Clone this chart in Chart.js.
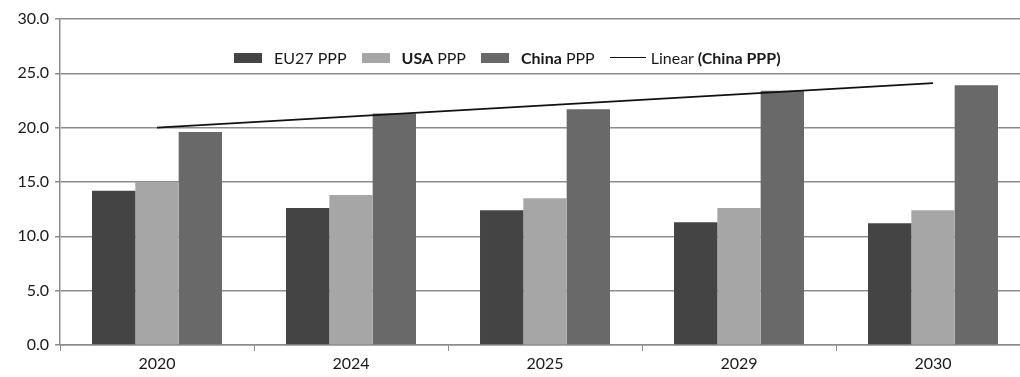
<!DOCTYPE html>
<html>
<head>
<meta charset="utf-8">
<script src="https://cdn.jsdelivr.net/npm/chart.js@4.4.1/dist/chart.umd.min.js"></script>
<style>
    html, body { margin: 0; padding: 0; background: #fff; overflow: hidden; }
    #wrap { position: relative; width: 1030px; height: 377px; }
    #legend {
        position: absolute; left: 234px; top: 48px;
        display: flex; align-items: center;
        font-family: Lato, 'Open Sans', sans-serif; font-size: 16px; color: #1a1a1a;
        white-space: nowrap;
    }
    #legend .item { display: flex; align-items: center; margin-right: 15px; }
    #legend .box { width: 28px; height: 10px; margin-right: 12px; }
    #legend .line { width: 36px; height: 0; border-top: 1.6px solid #111; margin-right: 5px; }
</style>
</head>
<body>
<div id="wrap">
    <canvas id="chart" width="1030" height="377"></canvas>
    <div id="legend"></div>
</div>
<script>
// ---- data ----
const years = ['2020', '2024', '2025', '2029', '2030'];
const eu27PPP = [14.2, 12.6, 12.4, 11.3, 11.2];
const usaPPP = [15.0, 13.8, 13.5, 12.6, 12.4];
const chinaPPP = [19.6, 21.3, 21.7, 23.4, 23.9];
// trendline end points (Linear (China PPP)), only first and last are drawn
const chinaTrend = [20.0, null, null, null, 24.1];
const yTicks = [0, 5, 10, 15, 20, 25, 30];

const FONT = 'Lato, "Open Sans", sans-serif';
const GRID = '#8c8c8c';

const ctx = document.getElementById('chart').getContext('2d');

const chart = new Chart(ctx, {
    type: 'bar',
    data: {
        labels: years,
        datasets: [
            {
                type: 'line',
                label: 'Linear (China PPP)',
                data: chinaTrend,
                borderColor: '#111',
                borderWidth: 1.8,
                pointRadius: 0,
                spanGaps: true,
                fill: false,
                order: 0
            },
            { label: 'EU27 PPP', data: eu27PPP, backgroundColor: '#444444', order: 1 },
            { label: 'USA PPP', data: usaPPP, backgroundColor: '#a6a6a6', order: 1 },
            { label: 'China PPP', data: chinaPPP, backgroundColor: '#696969', order: 1 }
        ]
    },
    options: {
        responsive: false,
        animation: false,
        layout: { padding: { top: 19, right: 0, left: 0, bottom: 0 } },
        datasets: {
            bar: { categoryPercentage: 0.67, barPercentage: 1.0 }
        },
        plugins: {
            legend: { display: false },
            tooltip: { enabled: false }
        },
        scales: {
            x: {
                offset: true,
                grid: { offset: true, drawOnChartArea: false, drawTicks: true, tickLength: 6, color: GRID },
                border: { color: GRID, width: 1.5 },
                ticks: { color: '#1a1a1a', font: { family: FONT, size: 16 }, padding: 3, maxRotation: 0 },
                afterFit: (axis) => { axis.height = 32; }
            },
            y: {
                min: 0,
                max: 30,
                afterBuildTicks: (axis) => { axis.ticks = yTicks.map(v => ({ value: v })); },
                grid: { color: GRID, lineWidth: 1.5, drawTicks: true, tickLength: 5 },
                border: { color: GRID, width: 1.5 },
                ticks: {
                    color: '#1a1a1a',
                    font: { family: FONT, size: 16 },
                    padding: 6,
                    callback: (v) => Number(v).toFixed(1)
                },
                afterFit: (axis) => { axis.width = 60; }
            }
        }
    }
});

// legend with mixed bold text, built from the dataset list
const legendParts = [
    { ds: 1, html: 'EU27 PPP' },
    { ds: 2, html: '<b>USA</b> PPP' },
    { ds: 3, html: '<b>China</b> PPP' },
    { ds: 0, html: 'Linear <b>(China PPP)</b>' }
];
const legendEl = document.getElementById('legend');
legendParts.forEach(p => {
    const ds = chart.data.datasets[p.ds];
    const item = document.createElement('div');
    item.className = 'item';
    const mark = document.createElement('span');
    if (ds.type === 'line') {
        mark.className = 'line';
    } else {
        mark.className = 'box';
        mark.style.background = ds.backgroundColor;
    }
    const txt = document.createElement('span');
    txt.innerHTML = p.html;
    item.appendChild(mark);
    item.appendChild(txt);
    legendEl.appendChild(item);
});
</script>
</body>
</html>
